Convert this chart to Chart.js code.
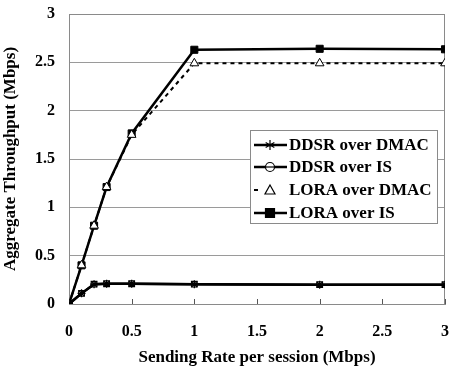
<!DOCTYPE html>
<html><head><meta charset="utf-8">
<script src="https://cdn.jsdelivr.net/npm/chart.js@4/dist/chart.umd.min.js"></script>
<style>html,body{margin:0;padding:0;background:#fff}#wrap{width:451px;height:368px;position:relative}</style>
</head><body><div id="wrap"><canvas id="c" width="451" height="368"></canvas></div>
<script>
const sendingRate = [0, 0.1, 0.2, 0.3, 0.5, 1, 2, 3];
const ddsrOverDmac = [0, 0.11, 0.205, 0.21, 0.21, 0.205, 0.2, 0.2];
const ddsrOverIs = [0, 0.11, 0.205, 0.21, 0.21, 0.205, 0.2, 0.2];
const loraOverDmac = [0, 0.40, 0.81, 1.21, 1.75, 2.49, 2.49, 2.49];
const loraOverIs = [0, 0.40, 0.81, 1.21, 1.765, 2.63, 2.64, 2.635];
const seriesNames = ['DDSR over DMAC', 'DDSR over IS', 'LORA over DMAC', 'LORA over IS'];
const xTitle = 'Sending Rate per session (Mbps)';
const yTitle = 'Aggregate Throughput (Mbps)';

const pts = arr => sendingRate.map((x, i) => ({x, y: arr[i]}));
const FONT = '"Liberation Serif","Times New Roman",serif';

const datasets = [
  {label: seriesNames[0], data: pts(ddsrOverDmac), borderColor:'#000', backgroundColor:'rgba(0,0,0,0)', borderWidth:2.5,
   pointStyle:'star', pointRadius:4, pointBorderColor:'#000', pointBorderWidth:1.2, pointBackgroundColor:'rgba(0,0,0,0)'},
  {label: seriesNames[1], data: pts(ddsrOverIs), borderColor:'#000', backgroundColor:'rgba(0,0,0,0)', borderWidth:2.5,
   pointStyle:'rect', pointRadius:4, pointBorderColor:'#000', pointBorderWidth:1.2, pointBackgroundColor:'rgba(0,0,0,0)'},
  {label: seriesNames[2], data: pts(loraOverDmac), borderColor:'#000', backgroundColor:'#fff', borderWidth:2, borderDash:[4,4],
   pointStyle:'triangle', pointRadius:5, pointBorderColor:'#000', pointBorderWidth:1, pointBackgroundColor:'#fff'},
  {label: seriesNames[3], data: pts(loraOverIs), borderColor:'#000', backgroundColor:'#000', borderWidth:2.5,
   pointStyle:'rect', pointRadius:5, pointBorderColor:'#000', pointBackgroundColor:'#000', pointBorderWidth:1}
];
const legendMarks = ['star', 'circle', 'triangle', 'rect'];

const framePlugin = {
  id:'frame',
  beforeDatasetsDraw(chart){
    const {ctx, chartArea:a} = chart;
    ctx.save(); ctx.strokeStyle='#8a8a8a'; ctx.lineWidth=1;
    ctx.strokeRect(a.left+0.5, a.top+0.5, a.right-a.left-1, a.bottom-a.top);
    const xs = chart.scales.x;
    ctx.strokeStyle='#555';
    xs.ticks.forEach(t=>{
      const px = Math.round(xs.getPixelForValue(t.value))+0.5;
      ctx.beginPath(); ctx.moveTo(px, a.bottom); ctx.lineTo(px, a.bottom-5); ctx.stroke();
    });
    ctx.restore();
  }
};

const legendPlugin = {
  id:'boxLegend',
  afterDraw(chart){
    const ctx = chart.ctx;
    const bx=250, by=130, bw=187, bh=93;
    ctx.save();
    ctx.fillStyle='#fff'; ctx.fillRect(bx,by,bw,bh);
    ctx.strokeStyle='#8a8a8a'; ctx.lineWidth=1; ctx.strokeRect(bx+0.5,by+0.5,bw,bh);
    const rows=[145,167,190,213];
    chart.data.datasets.forEach((ds,i)=>{
      const y=rows[i];
      ctx.strokeStyle='#000'; ctx.lineWidth=ds.borderWidth;
      if (ds.borderDash) {
        ctx.beginPath(); ctx.moveTo(254,y); ctx.lineTo(258,y); ctx.stroke();
      } else {
        ctx.beginPath(); ctx.moveTo(254,y); ctx.lineTo(287,y); ctx.stroke();
      }
      const m = legendMarks[i];
      ctx.lineWidth=1.2; ctx.strokeStyle='#000';
      ctx.fillStyle = (m==='rect') ? '#000' : '#fff';
      ctx.beginPath();
      if (m==='star') {
        ctx.moveTo(270,y-5); ctx.lineTo(270,y+5);
        for (const ang of [30,150]) {
          const r=ang*Math.PI/180;
          ctx.moveTo(270-5*Math.cos(r), y-5*Math.sin(r)); ctx.lineTo(270+5*Math.cos(r), y+5*Math.sin(r));
        }
        ctx.stroke();
      } else if (m==='circle') {
        ctx.arc(270,y,4.5,0,Math.PI*2); ctx.fill(); ctx.stroke();
        ctx.beginPath(); ctx.moveTo(265.5,y); ctx.lineTo(274.5,y); ctx.stroke();
      } else if (m==='triangle') {
        ctx.moveTo(270,y-5); ctx.lineTo(275,y+4); ctx.lineTo(265,y+4); ctx.closePath(); ctx.fill(); ctx.stroke();
      } else {
        ctx.rect(265.5,y-4.5,9,9); ctx.fill(); ctx.stroke();
      }
      ctx.fillStyle='#000'; ctx.font='bold 17px '+FONT; ctx.textBaseline='middle'; ctx.textAlign='left';
      ctx.fillText(ds.label, 289, y+1);
    });
    ctx.restore();
  }
};

new Chart(document.getElementById('c'), {
  type:'line',
  data:{datasets},
  plugins:[framePlugin, legendPlugin],
  options:{
    responsive:false, animation:false, devicePixelRatio:1,
    layout:{padding:{top:14, right:5, left:0, bottom:0}},
    plugins:{legend:{display:false}, tooltip:{enabled:false}},
    elements:{line:{tension:0}},
    scales:{
      x:{type:'linear', min:0, max:3,
         ticks:{stepSize:0.5, color:'#000', font:{family:FONT, size:16, weight:'bold'}, padding:18, maxRotation:0,
                callback:v=>String(v)},
         grid:{display:true, drawOnChartArea:false, drawTicks:false, color:'#8a8a8a'},
         border:{display:true, color:'#8a8a8a'},
         title:{display:true, text:xTitle, color:'#000', font:{family:FONT, size:17, weight:'bold'}, padding:{top:6,bottom:0}},
         afterFit(s){ s.height = 64; s.paddingLeft = 0; s.paddingRight = 0; }
      },
      y:{min:0, max:3,
         ticks:{stepSize:0.5, color:'#000', font:{family:FONT, size:16, weight:'bold'}, padding:14,
                callback:v=>String(v)},
         grid:{color:'#9a9a9a', lineWidth:1, drawTicks:false},
         border:{display:true, color:'#8a8a8a'},
         title:{display:true, text:yTitle, color:'#000', font:{family:FONT, size:17, weight:'bold'}, padding:{top:0,bottom:2}},
         afterFit(s){ s.width = 69; s.paddingTop = 0; s.paddingBottom = 0; }
      }
    }
  }
});
</script></body></html>
